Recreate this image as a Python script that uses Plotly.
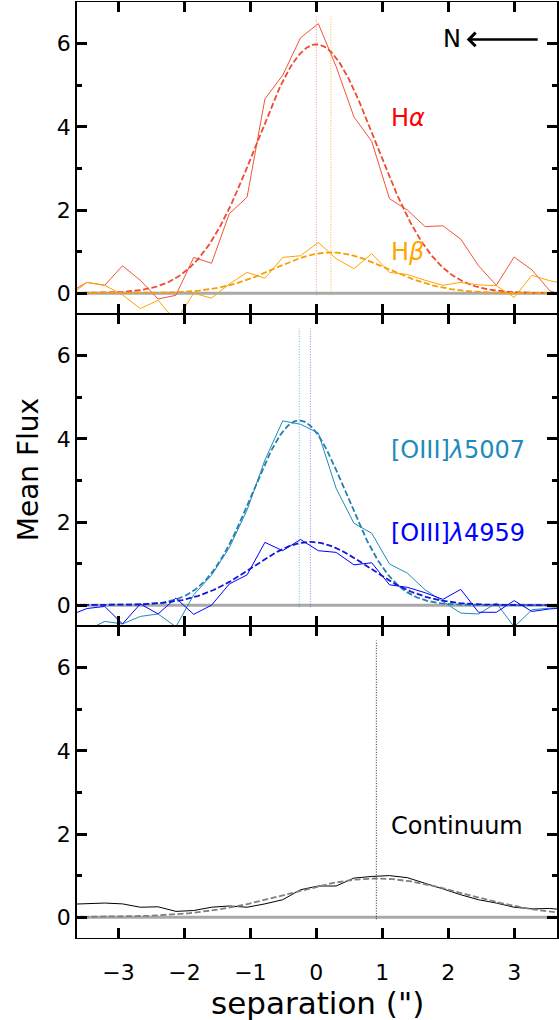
import numpy as np
import plotly.graph_objects as go
from plotly.subplots import make_subplots

# Spatial profiles along the slit: sample positions (arcsec)
separation = [-3.75, -3.48, -3.21, -2.94, -2.67, -2.40, -2.13, -1.86, -1.59, -1.32,
              -1.05, -0.78, -0.51, -0.24, 0.03, 0.30, 0.57, 0.84, 1.11, 1.38,
              1.65, 1.92, 2.19, 2.46, 2.73, 3.00, 3.27, 3.54, 3.81]

flux_halpha = [0.01, 0.26, 0.19, 0.66, 0.31, -0.14, -0.05, 0.86, 0.72, 1.91,
               2.31, 4.67, 5.24, 6.14, 6.48, 5.45, 4.24, 3.65, 2.27, 2.00,
               1.60, 1.62, 1.30, 0.66, 0.19, 0.87, 0.56, 0.06, -0.10]
flux_hbeta = [-0.07, 0.26, 0.19, -0.04, -0.37, -0.17, -0.67, 0.00, -0.12, 0.22,
              0.50, 0.36, 0.86, 0.90, 1.22, 0.83, 0.59, 0.95, 0.50, 0.45,
              0.31, 0.19, 0.26, 0.20, 0.18, -0.10, 0.43, 0.30, 0.22]
flux_oiii5007 = [-0.60, -0.60, -0.39, -0.45, -0.27, -0.21, -0.52, 0.25, 0.72, 1.38,
                 2.29, 3.49, 4.43, 4.35, 4.14, 2.81, 1.97, 1.73, 0.99, 0.77,
                 0.37, 0.09, -0.19, -0.21, 0.05, -0.52, -0.11, -0.07, -0.05]
flux_oiii4959 = [-0.25, -0.08, -0.03, -0.45, 0.03, -0.21, 0.17, -0.22, 0.00, 0.51,
                 0.73, 1.51, 1.31, 1.58, 1.31, 1.27, 0.97, 1.02, 0.49, 0.43,
                 0.30, 0.14, 0.38, -0.17, -0.17, 0.11, -0.15, -0.09, -0.06]
flux_continuum = [0.31, 0.33, 0.34, 0.32, 0.24, 0.25, 0.14, 0.16, 0.24, 0.27,
                  0.24, 0.32, 0.42, 0.66, 0.75, 0.75, 0.94, 0.98, 1.00, 0.95,
                  0.82, 0.68, 0.54, 0.42, 0.34, 0.24, 0.20, 0.21, 0.17]

# Gaussian fit parameters: [amplitude, centre, sigma]
fit_halpha = [5.98, 0.00, 0.90]
fit_hbeta = [0.98, 0.22, 0.85]
fit_oiii5007 = [4.44, -0.26, 0.71]
fit_oiii4959 = [1.52, -0.09, 0.87]
fit_continuum = [0.93, 0.91, 1.33]

x_tick_step = 1
y_major = [0, 2, 4, 6]
y_minor_step = 1

FONT = "DejaVu Sans"
x_model = np.linspace(-3.8, 3.8, 381)


def gaussian(p):
    amp, mu, sig = p
    return amp * np.exp(-0.5 * ((x_model - mu) / sig) ** 2)


fig = make_subplots(rows=3, cols=1, shared_xaxes=True, vertical_spacing=0)

panels = [
    (1, [(flux_halpha, fit_halpha, "#f4533a", "#ef4a30", "rgba(245,90,70,0.65)"),
         (flux_hbeta, fit_hbeta, "#ffa500", "#f5a000", "rgba(255,165,0,0.8)")]),
    (2, [(flux_oiii5007, fit_oiii5007, "#1f8bbb", "#2280b0", "rgba(40,150,200,0.7)"),
         (flux_oiii4959, fit_oiii4959, "#0000ff", "#1515dd", "rgba(90,60,255,0.65)")]),
    (3, [(flux_continuum, fit_continuum, "#000000", "#808080", "rgba(0,0,0,0.85)")]),
]

for row, series in panels:
    # zero reference line
    fig.add_trace(go.Scatter(x=[-3.8, 3.8], y=[0, 0], mode="lines",
                             line=dict(color="rgba(140,140,140,0.75)", width=3),
                             hoverinfo="skip", showlegend=False), row=row, col=1)
    for flux, fit, c_data, c_fit, c_centre in series:
        fig.add_trace(go.Scatter(x=[fit[1], fit[1]], y=[-0.05, 6.65], mode="lines",
                                 line=dict(color=c_centre, width=1, dash="1px,1.6px"),
                                 showlegend=False), row=row, col=1)
        fig.add_trace(go.Scatter(x=separation, y=flux, mode="lines",
                                 line=dict(color=c_data, width=1),
                                 showlegend=False), row=row, col=1)
        fig.add_trace(go.Scatter(x=x_model, y=gaussian(fit), mode="lines",
                                 line=dict(color=c_fit, width=1.8, dash="6px,2.6px"),
                                 showlegend=False), row=row, col=1)

tick_font = dict(family=FONT, size=22, color="black")

for row in (1, 2, 3):
    fig.update_xaxes(range=[-3.63, 3.65], tickmode="linear", tick0=0, dtick=x_tick_step,
                     tickformat="d", ticklabelstandoff=14,
                     showticklabels=(row == 3), mirror="ticks",
                     ticks="inside", ticklen=10, tickwidth=3, tickcolor="black",
                     showline=True, linecolor="black", linewidth=1.2,
                     showgrid=False, zeroline=False, tickfont=tick_font,
                     row=row, col=1)
    fig.update_yaxes(range=[-0.5, 7.0], tickvals=y_major, mirror="ticks",
                     ticks="inside", ticklen=10, tickwidth=3, tickcolor="black",
                     minor=dict(tick0=0, dtick=y_minor_step, ticks="inside", ticklen=5,
                                tickwidth=3, tickcolor="black", showgrid=False),
                     showline=True, linecolor="black", linewidth=1.5,
                     showgrid=False, zeroline=False, tickfont=tick_font,
                     row=row, col=1)

label_font = dict(family=FONT, size=24)
annotations = [
    dict(text="H<i>α</i>", x=1.10, y=4.2, xref="x", yref="y", color="#ff0000"),
    dict(text="H<i>β</i>", x=1.10, y=0.98, xref="x", yref="y", color="#ffa500"),
    dict(text="[OIII]<i>λ</i>5007", x=1.10, y=3.73, xref="x2", yref="y2", color="#1f8bbb"),
    dict(text="[OIII]<i>λ</i>4959", x=1.10, y=1.73, xref="x2", yref="y2", color="#0000ff"),
    dict(text="Continuum", x=1.10, y=2.19, xref="x3", yref="y3", color="#000000"),
    dict(text="N", x=2.06, y=6.1, xref="x", yref="y", color="#000000", center=True),
]
for a in annotations:
    fig.add_annotation(text=a["text"], x=a["x"], y=a["y"], xref=a["xref"], yref=a["yref"],
                       xanchor="center" if a.get("center") else "left", yanchor="middle",
                       showarrow=False, font=dict(color=a["color"], **label_font))

# orientation arrow pointing north
fig.add_annotation(x=2.28, y=6.1, ax=3.38, ay=6.1, xref="x", yref="y", axref="x", ayref="y",
                   text="", showarrow=True, arrowhead=4, arrowsize=1.1, arrowwidth=2.4,
                   arrowcolor="black")

# axis titles
fig.add_annotation(text="Mean Flux", x=(28 - 77) / 482, xref="paper", y=0.5, yref="paper",
                   textangle=-90, showarrow=False, xanchor="center", yanchor="middle",
                   font=dict(family=FONT, size=28, color="black"))
fig.add_annotation(text='separation (")', x=0.5, xref="paper", y=(938 - 1003) / 936,
                   yref="paper", showarrow=False, xanchor="center", yanchor="middle",
                   font=dict(family=FONT, size=31, color="black"))

fig.update_layout(width=559, height=1020, margin=dict(l=77, r=0, t=2, b=82),
                  paper_bgcolor="white", plot_bgcolor="white",
                  font=dict(family=FONT, color="black"), showlegend=False)

fig.write_html("out.html")
